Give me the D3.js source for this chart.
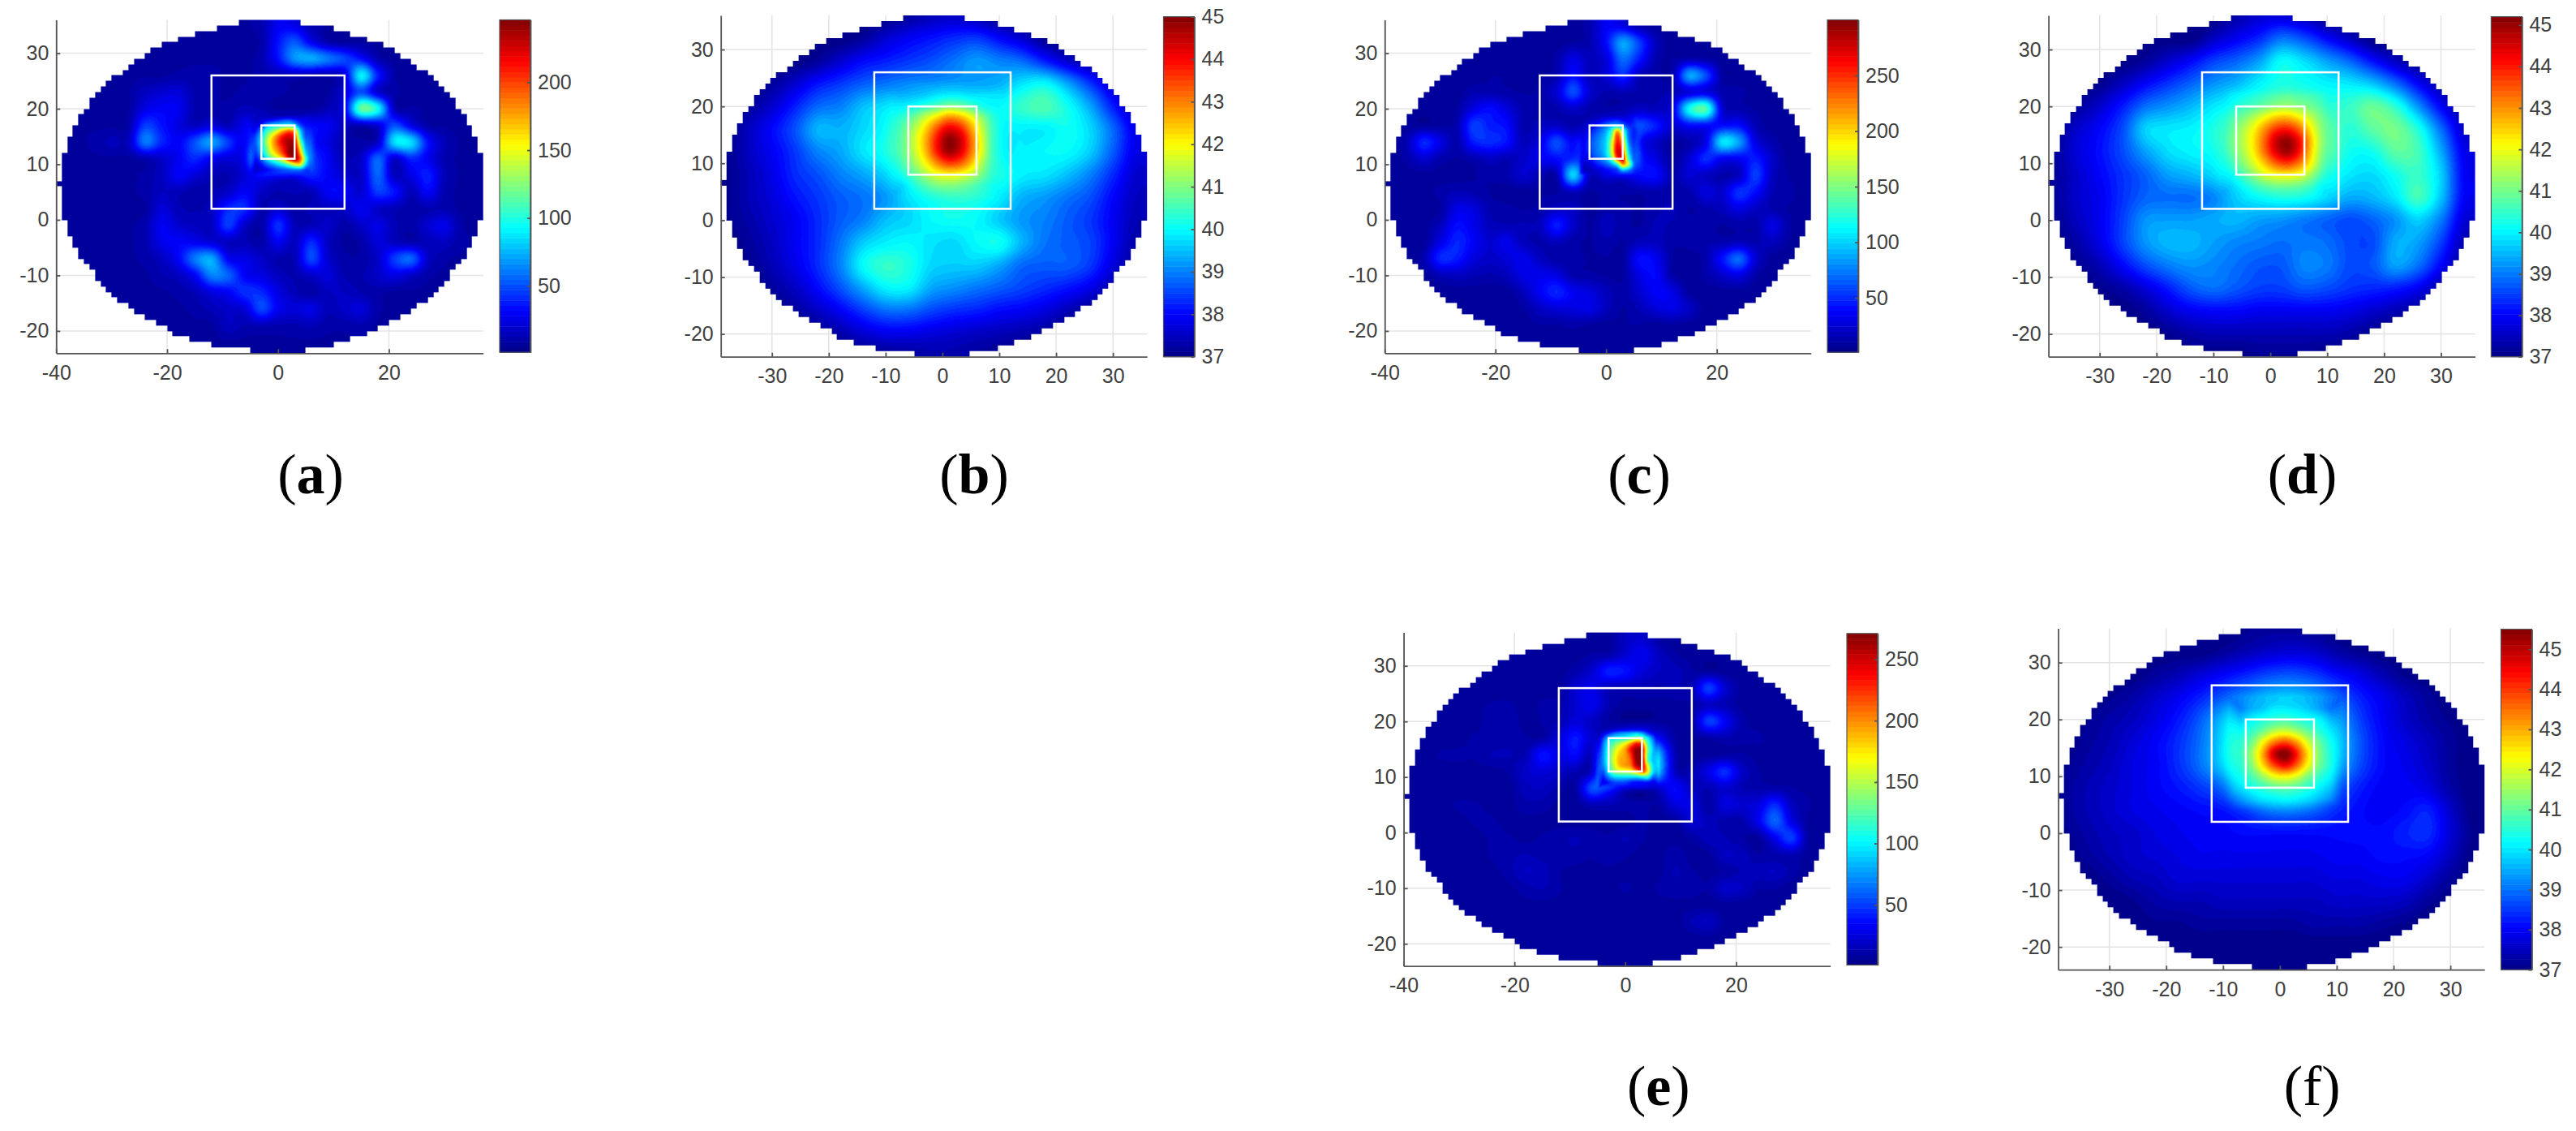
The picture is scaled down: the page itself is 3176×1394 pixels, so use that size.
<!DOCTYPE html>
<html>
<head>
<meta charset="utf-8">
<style>
  html, body { margin: 0; background: #fff; }
  svg { display: block; }
</style>
<script src="https://cdn.jsdelivr.net/npm/d3@7"></script>
</head>
<body>
<div id="chart"></div>
<script>
// values, row by row from the top
// speckled panels: x = -39,-36..36  y = 35,32..-22
const fieldA = [
  [8,8,8,8,8,8,8,8,8,8,8,8,12,28,26,12,8,8,8,8,8,8,8,8,8,8],
  [8,8,8,8,8,8,8,8,8,8,8,8,10,35,52,28,12,8,8,8,8,8,8,8,8,8],
  [8,8,8,8,8,8,8,8,8,8,8,8,12,34,66,72,60,48,34,12,8,8,8,8,8,8],
  [8,8,8,8,8,8,8,10,10,10,8,8,10,12,14,12,12,22,90,38,10,8,8,8,8,8],
  [8,8,8,8,8,16,20,22,12,10,8,10,12,10,8,8,8,22,50,20,10,8,8,8,8,8],
  [8,8,8,8,8,25,30,28,12,10,10,14,12,8,8,8,14,28,115,95,16,10,8,8,8,8],
  [8,8,8,8,10,45,35,24,16,22,14,28,30,35,40,32,28,16,14,22,50,26,10,8,8,8],
  [8,8,10,14,16,60,40,30,50,70,45,30,90,200,200,50,25,12,10,18,85,85,35,14,8,8],
  [8,8,8,8,8,12,18,28,40,28,22,32,110,170,200,60,30,14,18,55,20,40,28,12,8,8],
  [8,8,8,8,8,10,16,30,22,14,12,22,35,35,35,40,30,20,18,55,16,25,38,14,8,8],
  [8,8,8,8,8,10,16,14,10,12,18,30,18,12,14,14,30,30,20,45,35,14,30,12,8,8],
  [8,8,8,8,8,8,22,14,12,16,40,40,12,20,10,14,16,18,28,18,14,10,12,12,8,8],
  [8,8,8,8,8,12,28,20,16,16,45,18,10,42,14,14,18,10,18,25,14,10,20,26,10,8],
  [8,8,8,8,8,12,26,30,28,22,16,14,10,28,16,40,16,8,10,22,16,12,14,16,10,8],
  [8,8,8,8,8,10,16,30,60,72,30,26,18,12,14,48,20,10,10,18,45,55,18,10,8,8],
  [8,8,8,8,8,8,12,16,30,62,55,30,24,16,12,18,22,12,12,18,25,18,10,8,8,8],
  [8,8,8,8,8,8,8,10,14,24,30,42,40,24,14,10,16,16,12,10,8,8,8,8,8,8],
  [8,8,8,8,8,8,8,8,10,14,18,22,48,28,22,25,14,18,22,10,8,8,8,8,8,8],
  [8,8,8,8,8,8,8,8,8,8,16,12,14,12,12,14,10,10,12,8,8,8,8,8,8,8],
  [8,8,8,8,8,8,8,8,8,8,8,8,8,8,8,8,8,8,8,8,8,8,8,8,8,8]
];
const fieldC = [
  [8,8,8,8,8,8,8,8,8,8,8,8,14,35,30,12,8,8,8,8,8,8,8,8,8,8],
  [8,8,8,8,8,8,8,8,8,8,8,10,14,40,85,55,18,8,8,8,8,8,8,8,8,8],
  [8,8,8,8,8,8,8,8,8,8,12,30,18,28,70,45,14,10,14,12,8,8,8,8,8,8],
  [8,8,8,8,8,8,10,10,8,10,14,40,18,25,50,18,12,14,85,60,10,8,8,8,8,8],
  [8,8,8,8,8,14,14,12,10,12,25,60,25,14,16,14,14,16,28,30,14,12,8,8,8,8],
  [8,8,8,8,10,30,40,28,14,12,14,22,14,12,14,20,18,30,115,135,25,14,10,8,8,8],
  [8,8,8,10,14,55,45,40,14,18,20,14,24,40,50,60,45,25,40,40,40,40,16,8,8,8],
  [8,16,48,30,14,45,50,42,18,30,60,38,70,140,200,50,22,10,14,32,105,85,30,14,8,8],
  [8,12,24,14,10,14,20,16,22,32,40,50,60,110,230,60,30,10,25,50,35,35,45,22,8,8],
  [8,8,8,8,8,10,12,14,24,16,14,100,22,30,40,38,40,14,25,20,14,20,55,20,10,8],
  [8,8,8,12,16,14,10,8,8,10,10,18,10,12,12,12,14,12,14,28,24,52,40,16,12,8],
  [8,8,8,10,30,28,14,12,10,12,20,20,8,14,12,10,14,16,10,14,18,30,20,14,10,8],
  [8,8,8,18,40,32,18,16,16,18,45,22,10,18,12,10,16,14,12,12,10,12,12,30,12,8],
  [8,8,8,30,48,36,24,32,18,14,18,12,10,14,10,18,18,12,12,14,14,18,14,18,10,8],
  [8,8,14,48,45,28,22,26,32,20,12,12,10,10,10,40,34,10,8,14,42,68,25,8,8,8],
  [8,8,8,16,20,16,14,18,30,32,30,14,12,10,10,30,38,12,8,12,22,30,12,8,8,8],
  [8,8,8,8,8,8,8,8,18,35,48,34,28,18,12,24,36,30,10,8,8,8,8,8,8,8],
  [8,8,8,8,8,8,8,8,10,20,26,28,30,18,10,16,26,30,20,8,8,8,8,8,8,8],
  [8,8,8,8,8,8,8,8,8,10,10,12,10,8,10,10,8,10,8,8,8,8,8,8,8,8],
  [8,8,8,8,8,8,8,8,8,8,8,8,8,8,8,8,8,8,8,8,8,8,8,8,8,8]
];
const fieldE = [
  [7,7,7,7,7,7,7,7,7,7,7,7,8,18,22,10,7,7,7,7,7,7,7,7,7,7],
  [7,7,7,7,7,7,7,7,7,7,7,10,12,22,30,18,10,8,7,7,7,7,7,7,7,7],
  [7,7,7,7,7,7,7,7,7,8,12,22,42,38,24,18,16,10,8,7,7,7,7,7,7,7],
  [7,7,7,7,7,7,8,8,8,8,22,28,16,14,14,12,14,14,50,22,8,7,7,7,7,7],
  [7,7,7,7,8,10,10,8,10,12,22,30,14,8,8,8,8,10,18,14,8,7,7,7,7,7],
  [7,7,7,7,8,12,12,8,10,14,24,18,10,8,8,8,8,10,50,32,12,8,7,7,7,7],
  [7,7,7,8,10,10,12,10,10,24,40,22,30,60,70,35,10,8,10,14,10,10,8,7,7,7],
  [7,8,10,10,10,14,14,14,38,28,35,20,110,190,230,90,15,8,8,10,10,8,8,7,7,7],
  [7,7,7,8,8,8,10,20,24,20,14,22,130,170,220,90,18,14,28,45,20,10,8,7,7,7],
  [7,7,7,7,7,7,8,16,18,12,10,55,48,25,22,22,35,18,14,22,14,12,12,10,8,7],
  [7,7,8,10,10,8,8,12,12,8,8,14,14,12,12,10,25,26,10,26,22,26,45,18,10,7],
  [7,7,7,8,10,10,8,8,8,8,8,8,8,8,10,8,8,22,16,12,12,30,60,28,8,7],
  [7,7,7,7,8,10,10,8,10,12,14,12,10,14,10,8,8,10,16,14,10,8,30,50,10,7],
  [7,7,7,7,8,10,12,14,12,12,12,10,12,10,8,8,12,8,8,18,16,10,12,14,8,7],
  [7,7,7,7,8,8,12,18,16,10,8,8,8,8,8,8,14,10,8,10,14,16,18,12,7,7],
  [7,7,7,7,7,7,8,12,14,10,8,8,8,10,8,10,12,12,10,20,18,10,10,7,7,7],
  [7,7,7,7,7,7,7,8,8,8,7,7,7,7,8,8,8,8,8,8,7,7,7,7,7,7],
  [7,7,7,7,7,7,7,7,7,7,7,7,7,7,7,7,7,14,18,8,7,7,7,7,7,7],
  [7,7,7,7,7,7,7,7,7,7,7,7,7,7,7,7,7,7,8,7,7,7,7,7,7,7],
  [7,7,7,7,7,7,7,7,7,7,7,7,7,7,7,7,7,7,7,7,7,7,7,7,7,7]
];

// hot square of the speckled panels: x = -5,-4..6  y = 19,18..8
const coreA = [
  [12,12,14,16,18,18,20,22,22,20,22,25],
  [14,16,20,26,32,40,48,50,40,30,28,32],
  [16,24,40,70,85,90,95,100,85,50,35,35],
  [20,35,70,105,125,150,175,190,170,85,45,35],
  [28,50,85,125,160,190,215,225,205,100,50,32],
  [30,55,90,135,170,200,225,238,225,125,60,30],
  [30,50,85,125,165,190,215,240,235,150,70,32],
  [25,42,75,115,150,175,205,240,240,175,85,35],
  [20,32,55,85,115,135,165,215,235,195,110,38],
  [15,22,35,55,70,85,100,125,150,155,85,35],
  [12,16,22,30,38,45,50,55,60,60,45,28],
  [10,14,16,18,22,25,26,24,25,28,30,28]
];
const coreC = [
  [10,10,12,14,20,25,28,30,26,28,38,45],
  [10,14,18,22,30,40,45,48,38,34,45,60],
  [14,20,30,40,55,70,85,95,75,50,50,60],
  [18,24,40,55,70,90,130,210,140,70,45,35],
  [24,30,50,65,80,100,150,245,175,75,45,30],
  [26,34,55,70,85,105,170,255,205,85,50,30],
  [28,36,55,70,85,105,175,270,225,100,55,30],
  [28,34,50,68,80,105,170,270,250,115,60,30],
  [24,28,40,58,72,90,140,240,265,140,65,32],
  [20,22,26,40,52,65,85,125,215,170,75,34],
  [18,16,18,22,30,38,45,55,100,85,55,35],
  [25,16,12,14,18,20,24,28,35,38,38,35]
];
const coreE = [
  [8,10,12,14,14,14,14,14,14,14,12,10],
  [12,22,38,55,65,70,75,80,70,45,28,15],
  [22,50,85,100,105,110,125,145,135,100,62,25],
  [30,65,105,130,150,170,200,230,215,125,78,30],
  [32,70,115,150,175,195,235,265,255,140,85,32],
  [32,72,120,160,185,195,225,270,255,135,85,35],
  [30,72,120,165,190,195,215,265,265,135,85,35],
  [28,68,112,155,185,195,205,250,255,170,95,32],
  [24,55,100,140,150,155,165,190,220,175,95,28],
  [20,40,70,90,95,95,95,95,105,110,62,20],
  [18,26,40,50,52,50,40,35,35,35,25,14],
  [20,28,30,26,25,28,22,16,12,12,12,10]
];

// smooth panels: x = -38,-34..34  y = 36,32..-24
const fieldB = [
  [37,37,37,37,37,37,37,37,37.2,37.4,37.5,37.3,37,37,37,37,37,37,37],
  [37,37,37,37,37,37,37.2,37.6,37.9,38.1,38.3,38.4,38,37.6,37.1,37,37,37,37],
  [37,37,37,37,37.2,37.6,38,38.2,38.4,38.6,38.9,39.2,39,38.8,38.2,37.6,37.2,37,37],
  [37,37,37.2,37.6,38.1,38.4,38.7,38.9,39.1,39.2,39.3,39.3,39.4,39.8,40,39.3,38.4,37.6,37.2],
  [37,37.2,37.6,38.2,38.8,39,39.5,39.8,40.2,40.8,41,40.4,40,40.4,40.6,40.1,39.3,38.2,37.4],
  [37,37.5,38,38.6,39.4,39.4,39.7,40.1,41.2,43,44,42.8,40.2,39.9,39.9,40.1,39.7,38.8,37.8],
  [37.1,37.5,37.9,38.4,39,39.3,39.8,40.2,41.2,43,44,43,40.2,39.9,40,40,39.6,38.7,37.8],
  [37.1,37.4,37.8,38.3,38.6,39,39.3,39.7,40.5,41.6,42,41.5,40.3,39.9,39.8,39.5,39,38.3,37.6],
  [37.1,37.4,37.7,38.1,38.4,38.7,38.9,39.2,39.8,40.2,40.4,40.3,39.9,39.4,39.2,38.9,38.6,38,37.5],
  [37.1,37.3,37.6,37.9,38.3,38.7,39,39.5,39.7,40,40.1,40,39.6,39.2,39,38.7,38.4,37.9,37.4],
  [37,37.2,37.5,37.9,38.3,38.9,39.6,39.9,40,39.8,39.7,40,40.1,39.4,38.9,38.7,38.5,37.9,37.3],
  [37,37.1,37.4,37.8,38.3,39,40,40.4,40.2,39.7,39.6,39.6,39.3,38.8,38.7,38.7,38.4,37.7,37.2],
  [37,37,37.2,37.5,38,38.6,39.3,39.9,39.9,39.3,39.1,38.9,38.7,38.5,38.3,38.1,37.8,37.3,37],
  [37,37,37,37.2,37.5,37.9,38.4,38.8,38.8,38.5,38.3,38.2,38,37.9,37.7,37.4,37.1,37,37],
  [37,37,37,37,37.1,37.3,37.6,37.8,37.8,37.7,37.6,37.5,37.4,37.3,37.2,37,37,37,37],
  [37,37,37,37,37,37,37,37.1,37.2,37.3,37.3,37.2,37.1,37,37,37,37,37,37]
];
const fieldD = [
  [37,37,37,37,37,37,37,37,37.3,37.6,37.7,37.4,37,37,37,37,37,37,37],
  [37,37,37,37,37,37,37,37.5,37.9,38.3,38.9,38.6,38,37.5,37,37,37,37,37],
  [37,37,37,37,37.2,37.6,38,38.5,38.8,39.3,40.1,39.8,39.3,38.8,38.1,37.5,37.1,37,37],
  [37,37,37.1,37.5,38,38.4,38.8,39.2,39.5,40,40.3,40.2,40,39.9,39.6,38.9,38,37.3,37],
  [37,37.2,37.6,38.2,38.9,39.2,39.5,39.9,40.2,40.7,41,40.8,40.4,40.5,40.9,40.4,39.2,38,37.2],
  [37.1,37.6,38,38.6,39.7,39.9,40,40.3,41,42.5,44,42.8,41,40.4,40.8,41,40.3,38.9,37.6],
  [37.2,37.7,38.1,38.6,39.3,39.8,40,40.2,41,42.5,44,42.8,41,40.2,40.2,40.8,40.6,39.4,37.9],
  [37.2,37.6,38,38.4,38.8,39.3,39.5,39.8,40.5,41.5,42,41.5,40.4,39.9,39.8,40.2,40.5,39.7,38],
  [37.2,37.6,37.9,38.4,38.8,38.9,38.9,39.1,39.7,40.1,40.3,40.2,39.8,39.4,39.5,39.9,40.6,39.6,38],
  [37.1,37.5,37.9,38.5,39.2,39.3,39.3,39.4,39.5,39.3,39.2,39,38.8,38.6,38.8,39.2,39.7,39,37.7],
  [37,37.3,37.8,38.5,39.2,39.5,39.5,39.3,39.1,39,38.9,39,38.9,38.6,38.6,39.4,39.3,38.5,37.4],
  [37,37.1,37.4,38,38.6,39,39.2,39.1,38.9,38.7,38.7,39.1,39,38.6,38.7,39.3,38.9,38,37.1],
  [37,37,37.1,37.3,37.7,38.2,38.7,38.9,38.7,38.5,38.5,38.7,38.6,38.4,38.3,38.2,37.9,37.3,37],
  [37,37,37,37,37.2,37.6,37.9,38,38,37.9,37.9,37.9,37.9,37.8,37.6,37.4,37.2,37,37],
  [37,37,37,37,37,37.1,37.3,37.4,37.4,37.4,37.4,37.4,37.4,37.3,37.1,37,37,37,37],
  [37,37,37,37,37,37,37,37,37,37.1,37.1,37.1,37,37,37,37,37,37,37]
];
const fieldF = [
  [37,37,37,37,37,37,37,37,37.1,37.2,37.2,37.1,37,37,37,37,37,37,37],
  [37,37,37,37,37,37,37,37.2,37.4,37.6,37.7,37.6,37.3,37.1,37,37,37,37,37],
  [37,37,37,37,37.2,37.4,37.7,38,38.3,38.6,38.7,38.5,38.1,37.8,37.4,37.1,37,37,37],
  [37,37,37.1,37.3,37.6,37.9,38.3,38.8,39.3,39.7,39.8,39.5,38.9,38.3,37.9,37.5,37.2,37,37],
  [37,37.1,37.3,37.5,37.8,38.2,38.8,39.7,40.8,41.2,41.3,40.8,39.6,38.6,38,37.6,37.3,37.1,37],
  [37,37.2,37.4,37.7,38,38.4,39,40,41.7,44,44,41.7,40,38.8,38.1,37.8,37.5,37.2,37],
  [37.1,37.3,37.5,37.8,38,38.4,39,39.9,41.5,44,44,41.5,39.8,38.7,38.1,37.9,37.6,37.2,37],
  [37.2,37.4,37.6,37.8,38,38.2,38.5,39,40.6,41.4,41.6,40.6,39,38.3,38,38,37.8,37.3,37],
  [37.2,37.4,37.6,37.8,37.9,38,38.1,38.2,38.6,39.1,39.2,38.9,38.4,38.1,38,38.1,38.3,37.6,37],
  [37.1,37.3,37.5,37.6,37.8,37.9,38,38,38.1,38.1,38.1,38.1,38.1,38.1,38.1,38.3,38.4,37.7,37.1],
  [37,37.2,37.4,37.6,37.7,37.8,37.9,37.9,37.9,37.9,37.9,37.9,38,38,38.1,38.1,38,37.5,37],
  [37,37,37.2,37.4,37.5,37.7,37.7,37.7,37.7,37.7,37.7,37.7,37.8,37.8,37.9,37.9,37.6,37.2,37],
  [37,37,37,37.1,37.3,37.4,37.4,37.5,37.5,37.5,37.5,37.5,37.6,37.6,37.6,37.5,37.2,37,37],
  [37,37,37,37,37.1,37.1,37.2,37.2,37.2,37.2,37.2,37.3,37.3,37.3,37.2,37.1,37,37,37],
  [37,37,37,37,37,37,37,37,37,37,37,37,37,37,37,37,37,37,37],
  [37,37,37,37,37,37,37,37,37,37,37,37,37,37,37,37,37,37,37]
];

// hot spot of the smooth panels: x = -9,-7..11  y = 24,22..4
const coreB = [
  [38.9,38.9,39,39.1,39.2,39.3,39.3,39.3,39.3,39.4,39.5],
  [39.3,39.4,39.5,39.6,39.8,39.9,39.9,39.8,39.8,39.8,39.9],
  [39.7,39.9,40.1,40.4,40.7,41.1,41,40.6,40.2,40,40],
  [40,40.4,40.9,41.6,42.3,42.9,42.7,42,41.1,40.3,40],
  [40.1,40.7,41.4,42.3,43.4,44.2,43.9,42.8,41.5,40.4,39.9],
  [40.2,40.8,41.6,42.6,43.9,44.9,44.5,43.2,41.7,40.4,39.9],
  [40.2,40.8,41.5,42.5,43.8,44.7,44.3,43.1,41.7,40.4,40],
  [40,40.6,41.2,42,42.9,43.5,43.3,42.5,41.3,40.4,40],
  [39.8,40.2,40.7,41.3,41.8,42,41.9,41.5,40.9,40.3,40],
  [39.4,39.7,40.2,40.6,40.9,41,40.9,40.7,40.4,40.1,39.9],
  [39.2,39.5,39.8,40.1,40.3,40.4,40.4,40.3,40.1,39.9,39.7]
];
const coreD = [
  [39.3,39.5,39.7,39.8,40,40.2,40.3,40.2,40.1,40,40],
  [39.7,39.9,40.1,40.3,40.5,40.7,40.8,40.7,40.6,40.4,40.2],
  [40,40.2,40.5,40.7,41,41.3,41.4,41.2,41,40.7,40.4],
  [40.2,40.6,41,41.5,42.1,42.6,42.7,42.3,41.7,41,40.6],
  [40.3,40.8,41.4,42.1,43,43.8,44,43.4,42.3,41.2,40.5],
  [40.3,40.9,41.5,42.3,43.4,44.6,45,44.2,42.7,41.3,40.4],
  [40.2,40.8,41.4,42.2,43.3,44.4,44.9,44.1,42.6,41.2,40.3],
  [40,40.5,41.1,41.8,42.6,43.4,43.7,43.2,42.2,41,40.2],
  [39.7,40.1,40.6,41.2,41.8,42.1,42.2,42,41.4,40.6,40],
  [39.3,39.7,40.1,40.5,40.8,41,41,40.9,40.6,40.1,39.8],
  [39,39.3,39.6,39.9,40.1,40.2,40.2,40.2,40,39.7,39.5]
];
const coreF = [
  [38.4,38.6,38.9,39,39.1,39.2,39.1,39,38.8,38.6,38.3],
  [38.8,39.1,39.5,39.7,40,40,39.9,39.7,39.4,39,38.6],
  [39.3,39.7,40.1,40.4,40.6,40.7,40.5,40.3,40.1,39.6,39.1],
  [39.7,40.2,40.6,41.1,41.7,41.9,41.5,41,40.5,40,39.5],
  [39.9,40.5,41.1,42.3,43.4,43.8,43.1,41.9,41,40.3,39.7],
  [40,40.6,41.5,43,44.9,45.5,44.2,42.5,41.2,40.4,39.9],
  [40,40.5,41.3,42.6,43.9,44.5,43.6,42.2,41.1,40.4,39.8],
  [39.8,40.3,40.8,41.5,42.2,42.4,42,41.2,40.6,40.1,39.6],
  [39.4,39.9,40.3,40.6,40.9,41,40.8,40.5,40.1,39.7,39.2],
  [38.9,39.3,39.7,40,40.1,40.2,40.1,39.9,39.6,39.2,38.8],
  [38.4,38.7,39,39.2,39.4,39.4,39.3,39.2,38.9,38.6,38.3]
];

// staircase edge of the measured disc: first and last+1 cell of each of the 60 rows
const rimLeft = [33,29,25,22,19,17,16,14,13,12,10,9,8,7,6,6,5,4,4,3,3,2,2,2,1,1,1,1,1,0,1,1,1,1,1,1,2,2,2,3,3,4,4,5,6,7,7,8,9,10,11,13,14,16,18,20,21,24,28,35];
const rimRight = [44,50,53,56,59,61,62,64,65,67,68,69,70,71,72,72,73,74,74,75,75,76,76,76,77,77,77,77,77,77,77,77,77,77,77,77,76,76,76,75,75,74,74,73,72,71,71,70,69,68,67,65,64,62,60,58,56,53,50,45];

const xTicksWide = [-40, -20, 0, 20];
const xTicksFine = [-30, -20, -10, 0, 10, 20, 30];
const yTicks = [-20, -10, 0, 10, 20, 30];
const barTicksA = [50, 100, 150, 200];
const barTicksC = [50, 100, 150, 200, 250];
const barTicksE = [50, 100, 150, 200, 250];
const barTicksTemp = [37, 38, 39, 40, 41, 42, 43, 44, 45];
const outerBox = [-12, 12, 2, 26];
const innerBoxA = [-3, 3, 11, 17];
const innerBoxB = [-6, 6, 8, 20];

const jetStops = ["#000084", "#0000ff", "#00ffff", "#ffff00", "#ff0000", "#800000"];
const jetAt = d3.scaleLinear().domain([0, 0.125, 0.375, 0.625, 0.875, 1]).range(jetStops);
const jet64 = d3.range(64).map(i => jetAt((i + 0.5) / 64));

const speckledGrid = { fieldX0: -39, fieldY0: 35, fieldStep: 3, coreX0: -5, coreY0: 19, coreStep: 1 };
const smoothGrid = { fieldX0: -38, fieldY0: 36, fieldStep: 4, coreX0: -9, coreY0: 24, coreStep: 2 };

const panels = [
  { label: "a", left: 69.3, right: 595.7, top: 24.5, bottom: 435.3, barX: 616, barTop: 24.5, barBottom: 434.2,
    xDomain: [-40, 37], vDomain: [1, 246], xTicks: xTicksWide, barTicks: barTicksA, field: fieldA, core: coreA,
    grid: speckledGrid, inner: innerBoxA, capX: 383, capY: 608, capWeight: "bold" },
  { label: "b", left: 888.7, right: 1414.2, top: 19, bottom: 439.7, barX: 1434.5, barTop: 20.6, barBottom: 439.7,
    xDomain: [-39, 36], vDomain: [37, 45], xTicks: xTicksFine, barTicks: barTicksTemp, field: fieldB, core: coreB,
    grid: smoothGrid, inner: innerBoxB, capX: 1201, capY: 608, capWeight: "bold" },
  { label: "c", left: 1707.3, right: 2232.7, top: 24.5, bottom: 435.3, barX: 2253, barTop: 24.5, barBottom: 434.2,
    xDomain: [-40, 37], vDomain: [1, 300], xTicks: xTicksWide, barTicks: barTicksC, field: fieldC, core: coreC,
    grid: speckledGrid, inner: innerBoxA, capX: 2021, capY: 608, capWeight: "bold" },
  { label: "d", left: 2525.6, right: 3051.6, top: 19, bottom: 439.7, barX: 3071.4, barTop: 20.6, barBottom: 439.7,
    xDomain: [-39, 36], vDomain: [37, 45.2], xTicks: xTicksFine, barTicks: barTicksTemp, field: fieldD, core: coreD,
    grid: smoothGrid, inner: innerBoxB, capX: 2838.5, capY: 608, capWeight: "bold" },
  { label: "e", left: 1730.6, right: 2256.6, top: 779.6, bottom: 1190.7, barX: 2277, barTop: 780.8, barBottom: 1189.4,
    xDomain: [-40, 37], vDomain: [1, 271], xTicks: xTicksWide, barTicks: barTicksE, field: fieldE, core: coreE,
    grid: speckledGrid, inner: innerBoxA, capX: 2044.8, capY: 1362, capWeight: "bold" },
  { label: "f", left: 2537.6, right: 3063.2, top: 774.6, bottom: 1195.2, barX: 3083.5, barTop: 775.5, barBottom: 1195.2,
    xDomain: [-39, 36], vDomain: [37, 45.5], xTicks: xTicksFine, barTicks: barTicksTemp, field: fieldF, core: coreF,
    grid: smoothGrid, inner: innerBoxB, capX: 2850.6, capY: 1362, capWeight: "normal" }
];

const textColor = "#404040";
const axisColor = "#555555";
const barWidth = 38;

const svg = d3.select("#chart")
  .append("svg")
  .attr("width", 3176)
  .attr("height", 1394)
  .attr("font-family", "Liberation Sans, Arial, sans-serif");

// MATLAB-like shading: cubic blend between the values
function cubic(a, b, c, d, t) {
  return b + 0.5 * t * (c - a + t * (2 * a - 5 * b + 4 * c - d + t * (3 * (b - c) + d - a)));
}

function sampleGrid(rows, gx, gy) {
  const nr = rows.length;
  const nc = rows[0].length;
  const ix = Math.floor(gx);
  const iy = Math.floor(gy);
  const tx = gx - ix;
  const ty = gy - iy;
  const rowVals = [];
  for (let j = -1; j <= 2; j++) {
    const row = rows[Math.max(0, Math.min(nr - 1, iy + j))];
    const at = i => row[Math.max(0, Math.min(nc - 1, ix + i))];
    rowVals.push(cubic(at(-1), at(0), at(1), at(2), tx));
  }
  return cubic(rowVals[0], rowVals[1], rowVals[2], rowVals[3], ty);
}

function valueAt(p, x, y) {
  const g = p.grid;
  let v = sampleGrid(p.field, (x - g.fieldX0) / g.fieldStep, (g.fieldY0 - y) / g.fieldStep);
  const cx = (x - g.coreX0) / g.coreStep;
  const cy = (g.coreY0 - y) / g.coreStep;
  const nc = p.core[0].length - 1;
  const nr = p.core.length - 1;
  const edge = Math.min(cx, nc - cx, cy, nr - cy);
  if (edge > 0) {
    const w = Math.min(1, edge);
    v = v * (1 - w) + sampleGrid(p.core, cx, cy) * w;
  }
  return v;
}

panels.forEach(p => {
  const w = p.right - p.left;
  const h = p.bottom - p.top;
  const x = d3.scaleLinear().domain(p.xDomain).range([p.left, p.right]);
  const y = d3.scaleLinear().domain([-24, 36]).range([p.bottom, p.top]);
  const color = d3.scaleQuantize().domain(p.vDomain).range(jet64);
  const g = svg.append("g");

  // grid under the heat map
  g.append("g").selectAll("line").data(p.xTicks).join("line")
    .attr("x1", d => x(d)).attr("x2", d => x(d))
    .attr("y1", p.top).attr("y2", p.bottom)
    .attr("stroke", "#e4e4e4").attr("stroke-width", 1.5);
  g.append("g").selectAll("line").data(yTicks).join("line")
    .attr("y1", d => y(d)).attr("y2", d => y(d))
    .attr("x1", p.left).attr("x2", p.right)
    .attr("stroke", "#e4e4e4").attr("stroke-width", 1.5);

  // heat map, painted pixel by pixel and masked by the staircase rim
  const cw = Math.round(w);
  const ch = Math.round(h);
  const canvas = document.createElement("canvas");
  canvas.width = cw;
  canvas.height = ch;
  const ctx = canvas.getContext("2d");
  const img = ctx.createImageData(cw, ch);
  const xInv = d3.scaleLinear().domain([0, cw]).range(p.xDomain);
  const yInv = d3.scaleLinear().domain([0, ch]).range([36, -24]);
  for (let py = 0; py < ch; py++) {
    const row = Math.min(59, Math.floor((py + 0.5) / ch * 60));
    for (let px = 0; px < cw; px++) {
      const col = (px + 0.5) / cw * 77;
      if (col < rimLeft[row] || col >= rimRight[row]) continue;
      const c = d3.rgb(color(valueAt(p, xInv(px + 0.5), yInv(py + 0.5))));
      const k = (py * cw + px) * 4;
      img.data[k] = c.r;
      img.data[k + 1] = c.g;
      img.data[k + 2] = c.b;
      img.data[k + 3] = 255;
    }
  }
  ctx.putImageData(img, 0, 0);
  g.append("image")
    .attr("x", p.left).attr("y", p.top)
    .attr("width", w).attr("height", h)
    .attr("preserveAspectRatio", "none")
    .attr("href", canvas.toDataURL());

  // white boxes
  [outerBox, p.inner].forEach(b => {
    g.append("rect")
      .attr("x", x(b[0])).attr("y", y(b[3]))
      .attr("width", x(b[1]) - x(b[0])).attr("height", y(b[2]) - y(b[3]))
      .attr("fill", "none").attr("stroke", "#ffffff").attr("stroke-width", 2.5);
  });

  // axes
  const xAxisG = g.append("g")
    .attr("transform", `translate(0,${p.bottom})`)
    .call(d3.axisBottom(x).tickValues(p.xTicks).tickFormat(String).tickSize(-5).tickPadding(15).tickSizeOuter(0));
  const yAxisG = g.append("g")
    .attr("transform", `translate(${p.left},0)`)
    .call(d3.axisLeft(y).tickValues(yTicks).tickFormat(String).tickSize(-5).tickPadding(9).tickSizeOuter(0));

  // colour bar
  const levels = d3.range(64);
  const barY = d3.scaleBand().domain(levels).range([p.barBottom, p.barTop]);
  g.append("g").selectAll("rect").data(levels).join("rect")
    .attr("x", p.barX)
    .attr("y", d => barY(d))
    .attr("width", barWidth)
    .attr("height", barY.bandwidth() + 0.5)
    .attr("fill", d => jet64[d]);
  g.append("rect")
    .attr("x", p.barX).attr("y", p.barTop)
    .attr("width", barWidth).attr("height", p.barBottom - p.barTop)
    .attr("fill", "none").attr("stroke", axisColor).attr("stroke-width", 1.2);
  const barScale = d3.scaleLinear().domain(p.vDomain).range([p.barBottom, p.barTop]);
  const barAxisG = g.append("g")
    .attr("transform", `translate(${p.barX + barWidth},0)`)
    .call(d3.axisRight(barScale).tickValues(p.barTicks).tickFormat(String).tickSize(-4).tickPadding(9).tickSizeOuter(0));

  [xAxisG, yAxisG, barAxisG].forEach(a => {
    a.attr("font-size", 25).attr("font-family", "Liberation Sans, Arial, sans-serif");
    a.selectAll("path, line").attr("stroke", axisColor).attr("stroke-width", 1.8);
    a.selectAll("text").attr("fill", textColor);
  });

  // caption
  const cap = g.append("text")
    .attr("x", p.capX).attr("y", p.capY)
    .attr("text-anchor", "middle")
    .attr("font-family", "Liberation Serif, serif")
    .attr("font-size", 70)
    .attr("fill", "#000");
  cap.append("tspan").text("(");
  cap.append("tspan").attr("font-weight", p.capWeight).text(p.label);
  cap.append("tspan").text(")");
});
</script>
</body>
</html>
